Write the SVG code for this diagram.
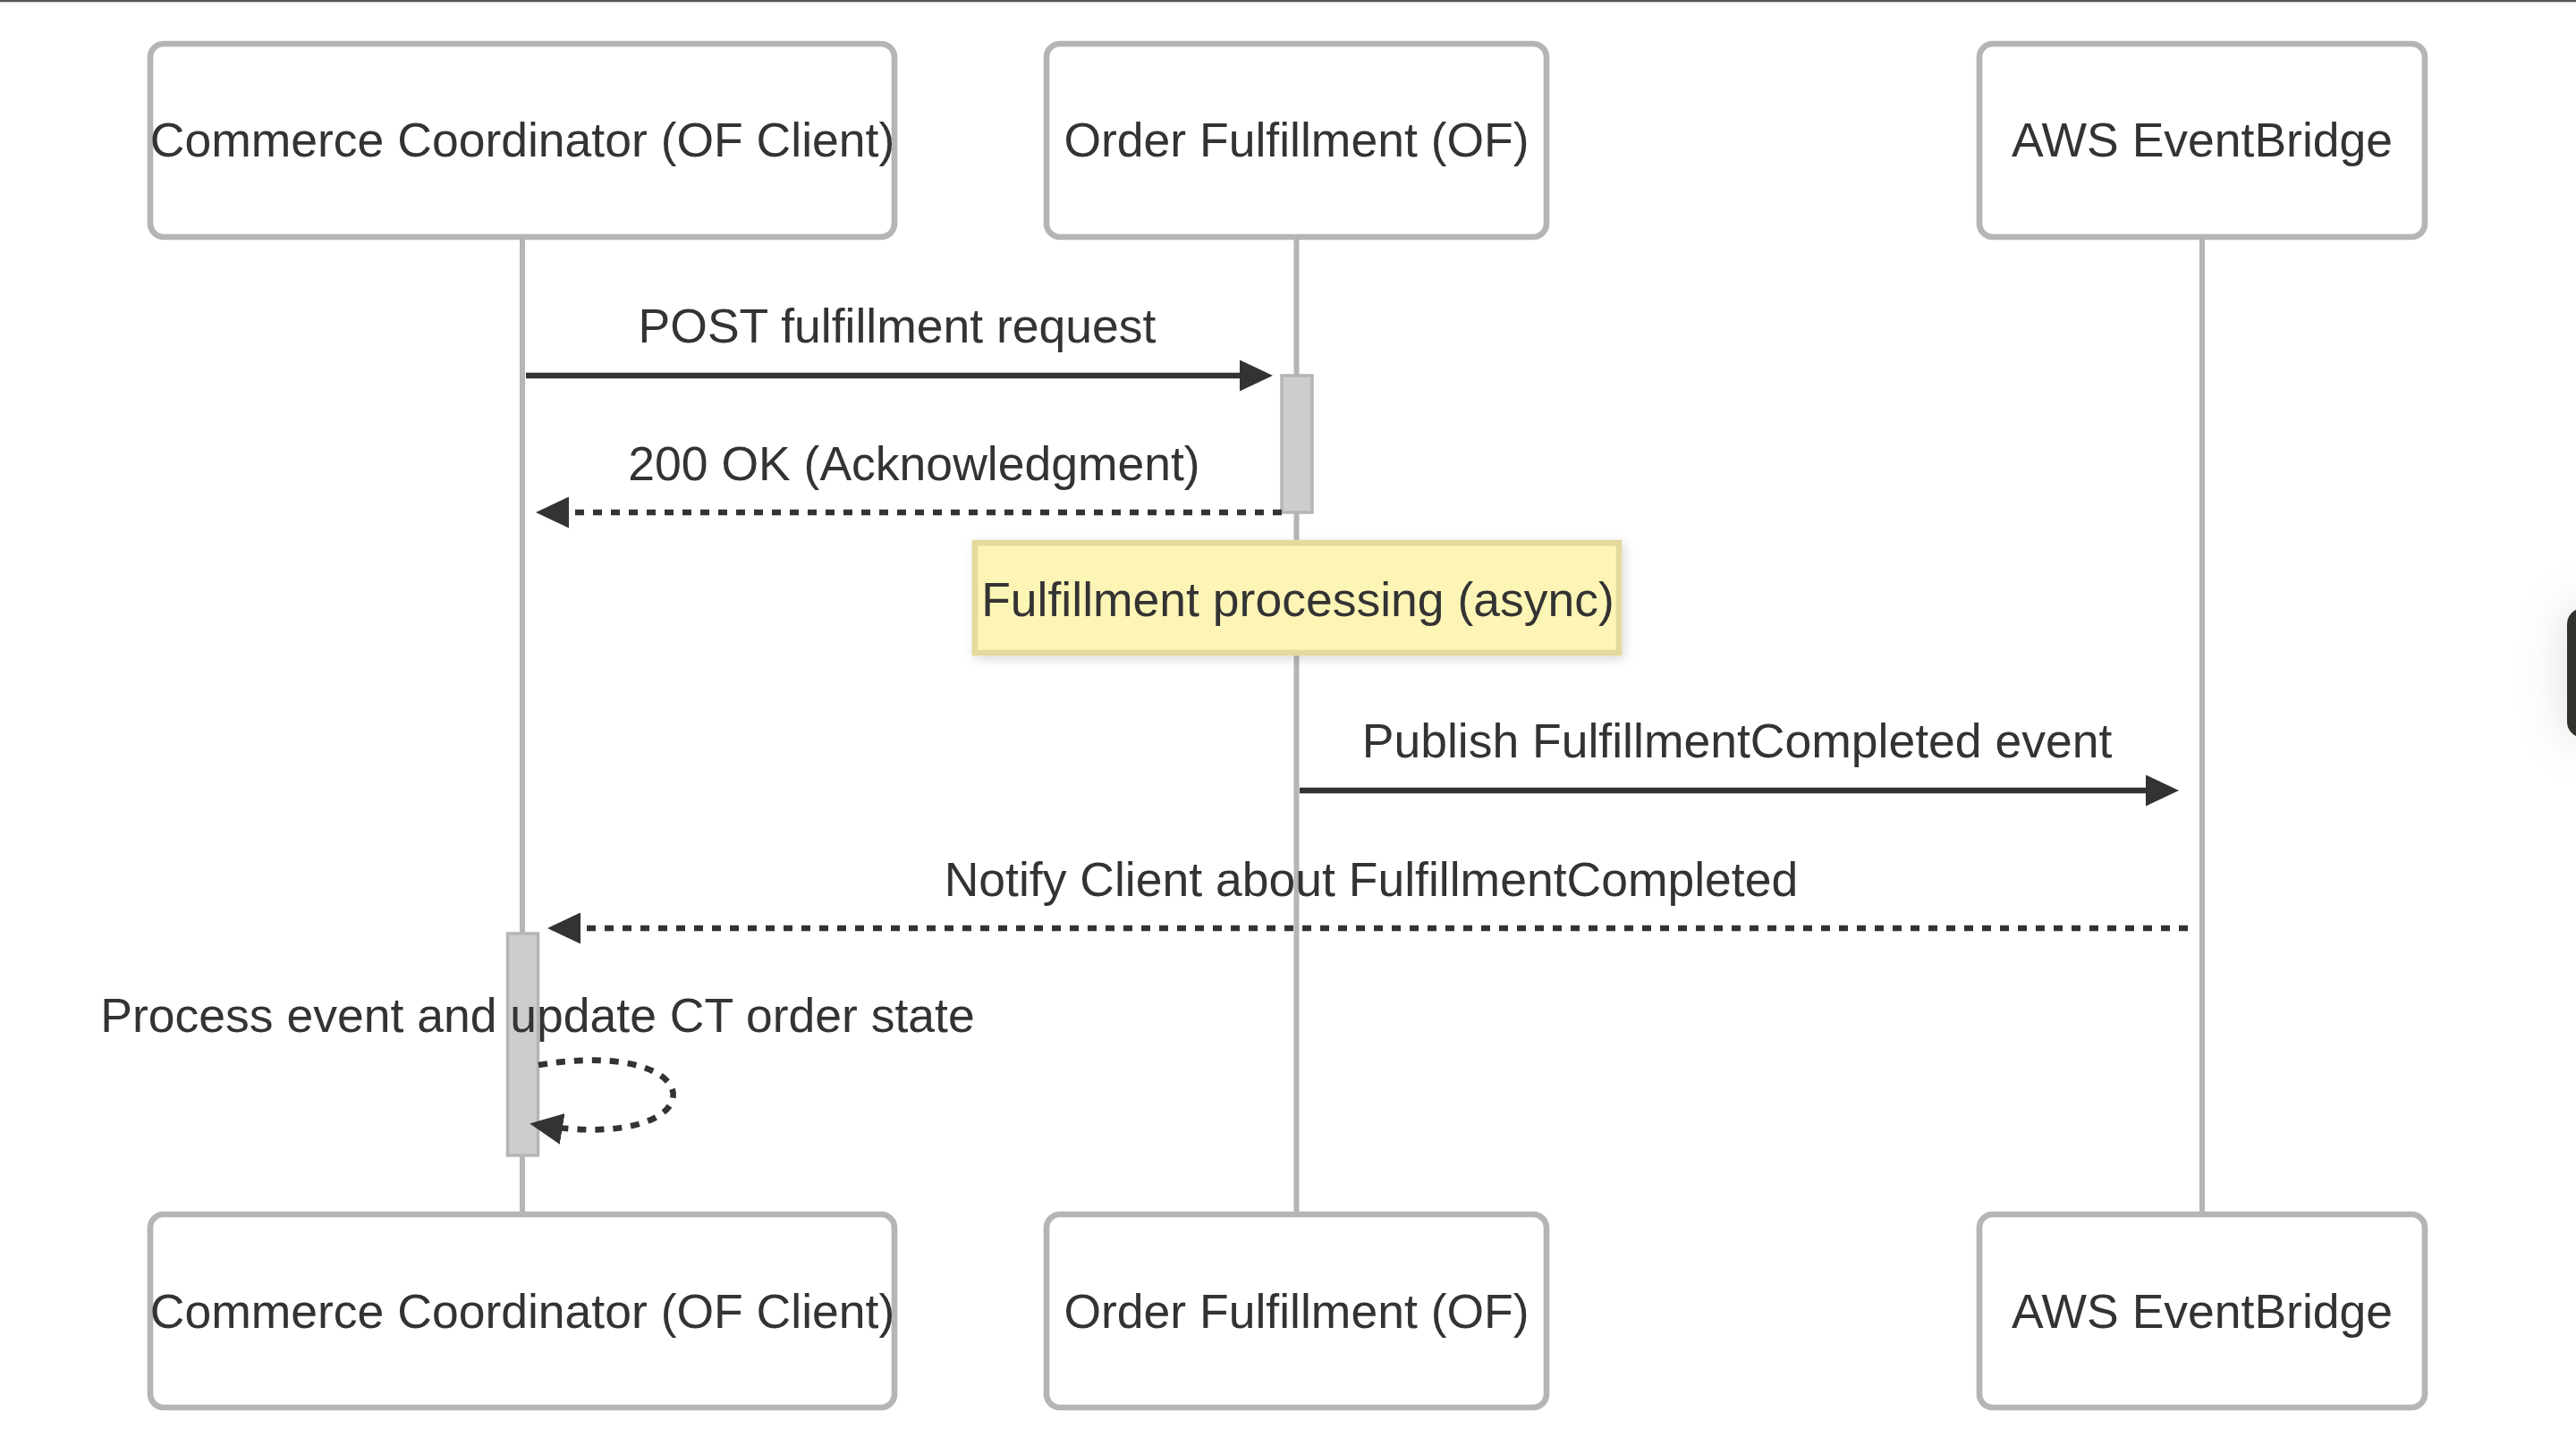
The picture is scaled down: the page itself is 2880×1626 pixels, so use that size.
<svg xmlns="http://www.w3.org/2000/svg" width="2880" height="1626" viewBox="0 0 2880 1626">
<style>
.actor{fill:#ffffff;stroke:#b5b5b5;stroke-width:6.7}
.lbl{font-family:"Liberation Sans",Arial,Helvetica,sans-serif;font-size:53.5px;fill:#333333;text-anchor:middle}
.life{stroke:#b5b5b5;stroke-width:6}
.act{fill:#cdcdcd;stroke:#b5b5b5;stroke-width:3.5}
.msg{stroke:#333333;stroke-width:6.7;fill:none}
.dot{stroke-dasharray:10 10}
.note{fill:#fdf5b6;stroke:#e3da9c;stroke-width:6.7}
</style>
<defs>
<marker id="ah" markerUnits="userSpaceOnUse" viewBox="0 0 37 35" refX="27" refY="17.5" markerWidth="37" markerHeight="35" orient="auto">
<path d="M0,0 L37,17.5 L0,35 Z" fill="#333333"/>
</marker>
<filter id="sh" x="-10%" y="-30%" width="120%" height="160%">
<feDropShadow dx="3" dy="4" stdDeviation="6" flood-color="#000" flood-opacity="0.14"/>
</filter>
<filter id="sh2" x="-200%" y="-60%" width="400%" height="220%">
<feDropShadow dx="0" dy="0" stdDeviation="28" flood-color="#000" flood-opacity="0.13"/>
</filter>
</defs>
<rect x="0" y="0" width="2880" height="1626" fill="#ffffff"/>
<line x1="0" y1="1" x2="2880" y2="1" stroke="#555555" stroke-width="2.5"/>

<g id="lifelines">
<line class="life" x1="584" y1="265" x2="584" y2="1358"/>
<line class="life" x1="1449.5" y1="265" x2="1449.5" y2="1358"/>
<line class="life" x1="2462" y1="265" x2="2462" y2="1358"/>
</g>

<g id="actor-client-top">
<rect class="actor" x="168" y="49" width="832" height="216" rx="15"/>
<text class="lbl" x="584" y="175">Commerce Coordinator (OF Client)</text>
</g>
<g id="actor-of-top">
<rect class="actor" x="1170" y="49" width="559" height="216" rx="15"/>
<text class="lbl" x="1449.5" y="175">Order Fulfillment (OF)</text>
</g>
<g id="actor-eb-top">
<rect class="actor" x="2213" y="49" width="498" height="216" rx="15"/>
<text class="lbl" x="2462" y="175">AWS EventBridge</text>
</g>

<g id="actor-client-bottom">
<rect class="actor" x="168" y="1358" width="832" height="216" rx="15"/>
<text class="lbl" x="584" y="1485">Commerce Coordinator (OF Client)</text>
</g>
<g id="actor-of-bottom">
<rect class="actor" x="1170" y="1358" width="559" height="216" rx="15"/>
<text class="lbl" x="1449.5" y="1485">Order Fulfillment (OF)</text>
</g>
<g id="actor-eb-bottom">
<rect class="actor" x="2213" y="1358" width="498" height="216" rx="15"/>
<text class="lbl" x="2462" y="1485">AWS EventBridge</text>
</g>

<g id="activation-of">
<rect class="act" x="1433" y="420" width="34" height="153"/>
</g>
<g id="activation-client">
<rect class="act" x="567.5" y="1044" width="34" height="248"/>
</g>

<g id="note-async">
<rect class="note" x="1090" y="607" width="720" height="123" filter="url(#sh)"/>
<text class="lbl" x="1451" y="689">Fulfillment processing (async)</text>
</g>

<g id="connectors">
<line class="msg" x1="588" y1="420" x2="1413" y2="420" marker-end="url(#ah)"/>
<text class="lbl" x="1003" y="383">POST fulfillment request</text>
<line class="msg dot" x1="1433" y1="573" x2="609" y2="573" marker-end="url(#ah)"/>
<text class="lbl" x="1022" y="537">200 OK (Acknowledgment)</text>
<line class="msg" x1="1453" y1="884" x2="2426" y2="884" marker-end="url(#ah)"/>
<text class="lbl" x="1942" y="847">Publish FulfillmentCompleted event</text>
<line class="msg dot" x1="2446" y1="1038" x2="622" y2="1038" marker-end="url(#ah)"/>
<text class="lbl" x="1533" y="1002">Notify Client about FulfillmentCompleted</text>
<path class="msg dot" d="M602,1191 C803,1158 803,1291 602,1258" marker-end="url(#ah)"/>
<text class="lbl" x="601" y="1154">Process event and update CT order state</text>
</g>

<rect x="2870" y="680" width="60" height="145" rx="18" fill="#31312d" filter="url(#sh2)"/>
</svg>
